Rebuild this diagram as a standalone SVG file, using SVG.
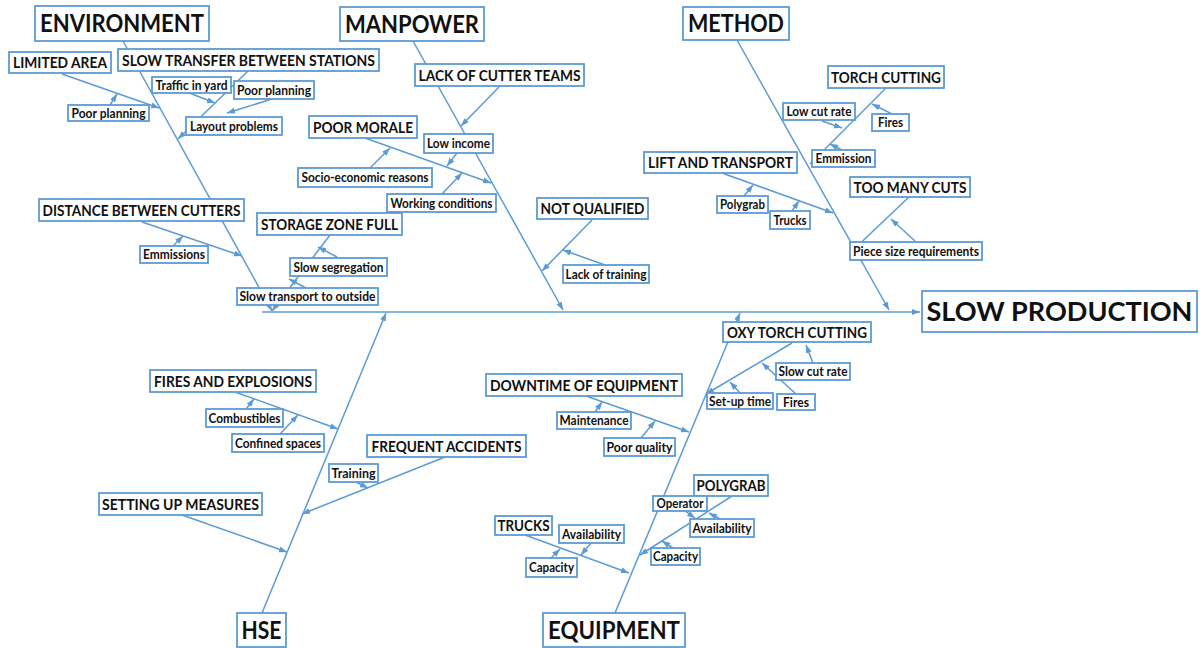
<svg xmlns="http://www.w3.org/2000/svg" width="1203" height="648" viewBox="0 0 1203 648">
<defs>
<style>
.b{fill:#fff;stroke:#5B9BD5;stroke-width:1.8}
text{font-family:Lato,"Liberation Sans",sans-serif;font-weight:700;fill:#111;text-anchor:middle}
.h{font-size:24px}
.p{font-size:27px}
.m{font-size:15px}
.s{font-size:12.5px}
.c line{stroke:#5B9BD5;stroke-width:1.5;marker-end:url(#a)}
</style>
<marker id="a" viewBox="0 0 8 6" refX="8" refY="3" markerWidth="8" markerHeight="6" markerUnits="userSpaceOnUse" orient="auto">
<path d="M0,0 L8,3 L0,6 z" fill="#5B9BD5"/>
</marker>
</defs>
<rect width="1203" height="648" fill="#fff"/>
<g id="connectors" class="c">
<line x1="262" y1="312" x2="920" y2="312"/>
<line x1="123" y1="41" x2="272" y2="311"/>
<line x1="62" y1="74" x2="159" y2="108"/>
<line x1="110" y1="105" x2="117" y2="94"/>
<line x1="248" y1="71" x2="178" y2="139"/>
<line x1="187" y1="92" x2="215" y2="103"/>
<line x1="272" y1="99" x2="227" y2="113"/>
<line x1="142" y1="222" x2="242" y2="256"/>
<line x1="173" y1="246" x2="183" y2="236"/>
<line x1="330" y1="235" x2="272" y2="311"/>
<line x1="337" y1="257" x2="318" y2="247"/>
<line x1="306" y1="288" x2="289" y2="279"/>
<line x1="413" y1="41" x2="563" y2="310"/>
<line x1="499" y1="87" x2="461" y2="126"/>
<line x1="457" y1="153" x2="447" y2="166"/>
<line x1="365" y1="138" x2="491" y2="183"/>
<line x1="370" y1="168" x2="390" y2="148"/>
<line x1="442" y1="194" x2="462" y2="173"/>
<line x1="592" y1="220" x2="542" y2="271"/>
<line x1="605" y1="265" x2="563" y2="250"/>
<line x1="737" y1="40" x2="889" y2="310"/>
<line x1="886" y1="88" x2="810" y2="164"/>
<line x1="822" y1="121" x2="842" y2="128"/>
<line x1="892" y1="114" x2="872" y2="104"/>
<line x1="842" y1="150" x2="830" y2="144"/>
<line x1="722" y1="173" x2="833" y2="213"/>
<line x1="744" y1="196" x2="753" y2="185"/>
<line x1="792" y1="211" x2="799" y2="201"/>
<line x1="909" y1="197" x2="851" y2="252"/>
<line x1="915" y1="241" x2="891" y2="219"/>
<line x1="262" y1="613" x2="386" y2="313"/>
<line x1="235" y1="392" x2="338" y2="429"/>
<line x1="246" y1="409" x2="254" y2="399"/>
<line x1="280" y1="434" x2="298" y2="415"/>
<line x1="445" y1="457" x2="302" y2="514"/>
<line x1="356" y1="482" x2="368" y2="488"/>
<line x1="182" y1="515" x2="287" y2="552"/>
<line x1="615" y1="613" x2="740" y2="313"/>
<line x1="792" y1="343" x2="706" y2="394"/>
<line x1="813" y1="363" x2="806" y2="345"/>
<line x1="796" y1="394" x2="762" y2="363"/>
<line x1="740" y1="393" x2="730" y2="382"/>
<line x1="586" y1="396" x2="689" y2="432"/>
<line x1="595" y1="412" x2="602" y2="402"/>
<line x1="641" y1="438" x2="655" y2="421"/>
<line x1="732" y1="496" x2="640" y2="555"/>
<line x1="685" y1="511" x2="695" y2="518"/>
<line x1="720" y1="519" x2="709" y2="513"/>
<line x1="673" y1="548" x2="662" y2="541"/>
<line x1="525" y1="535" x2="629" y2="573"/>
<line x1="591" y1="543" x2="581" y2="555"/>
<line x1="551" y1="558" x2="560" y2="549"/>
</g>
<g id="slow-production"><rect class="b" x="922" y="291" width="275" height="41"/><text class="p" x="1059.5" y="321" textLength="266" lengthAdjust="spacingAndGlyphs">SLOW PRODUCTION</text></g>
<g id="environment"><rect class="b" x="35" y="6" width="174" height="35"/><text class="h" x="122" y="32" textLength="164" lengthAdjust="spacingAndGlyphs">ENVIRONMENT</text></g>
<g id="manpower"><rect class="b" x="340" y="7" width="144" height="34"/><text class="h" x="412" y="33" textLength="134" lengthAdjust="spacingAndGlyphs">MANPOWER</text></g>
<g id="method"><rect class="b" x="683" y="7" width="106" height="33"/><text class="h" x="736" y="32" textLength="96" lengthAdjust="spacingAndGlyphs">METHOD</text></g>
<g id="hse"><rect class="b" x="237" y="613" width="49" height="34"/><text class="h" x="261.5" y="639" textLength="40" lengthAdjust="spacingAndGlyphs">HSE</text></g>
<g id="equipment"><rect class="b" x="543" y="613" width="142" height="34"/><text class="h" x="614" y="639" textLength="132" lengthAdjust="spacingAndGlyphs">EQUIPMENT</text></g>
<g id="limited-area"><rect class="b" x="9" y="52" width="102" height="21"/><text class="m" x="60" y="68" textLength="94" lengthAdjust="spacingAndGlyphs">LIMITED AREA</text></g>
<g id="slow-transfer"><rect class="b" x="118" y="49" width="261" height="22"/><text class="m" x="248.5" y="65.5" textLength="253" lengthAdjust="spacingAndGlyphs">SLOW TRANSFER BETWEEN STATIONS</text></g>
<g id="distance-cutters"><rect class="b" x="39" y="199" width="205" height="22"/><text class="m" x="141.5" y="215.5" textLength="198" lengthAdjust="spacingAndGlyphs">DISTANCE BETWEEN CUTTERS</text></g>
<g id="storage-zone"><rect class="b" x="257" y="213" width="145" height="22"/><text class="m" x="329.5" y="229.5" textLength="137" lengthAdjust="spacingAndGlyphs">STORAGE ZONE FULL</text></g>
<g id="lack-cutter"><rect class="b" x="415" y="64" width="169" height="22"/><text class="m" x="499.5" y="80.5" textLength="162" lengthAdjust="spacingAndGlyphs">LACK OF CUTTER TEAMS</text></g>
<g id="poor-morale"><rect class="b" x="309" y="116" width="108" height="22"/><text class="m" x="363" y="132.5" textLength="100" lengthAdjust="spacingAndGlyphs">POOR MORALE</text></g>
<g id="not-qualified"><rect class="b" x="537" y="198" width="111" height="21"/><text class="m" x="592.5" y="214" textLength="104" lengthAdjust="spacingAndGlyphs">NOT QUALIFIED</text></g>
<g id="torch-cutting"><rect class="b" x="828" y="66" width="116" height="22"/><text class="m" x="886" y="82.5" textLength="110" lengthAdjust="spacingAndGlyphs">TORCH CUTTING</text></g>
<g id="lift-transport"><rect class="b" x="644" y="152" width="153" height="21"/><text class="m" x="720.5" y="168" textLength="145" lengthAdjust="spacingAndGlyphs">LIFT AND TRANSPORT</text></g>
<g id="too-many-cuts"><rect class="b" x="850" y="177" width="120" height="20"/><text class="m" x="910" y="192.5" textLength="113" lengthAdjust="spacingAndGlyphs">TOO MANY CUTS</text></g>
<g id="fires-explosions"><rect class="b" x="150" y="370" width="166" height="22"/><text class="m" x="233" y="386.5" textLength="158" lengthAdjust="spacingAndGlyphs">FIRES AND EXPLOSIONS</text></g>
<g id="frequent-accidents"><rect class="b" x="367" y="435" width="159" height="22"/><text class="m" x="446.5" y="451.5" textLength="150" lengthAdjust="spacingAndGlyphs">FREQUENT ACCIDENTS</text></g>
<g id="setting-up"><rect class="b" x="99" y="493" width="163" height="22"/><text class="m" x="180.5" y="509.5" textLength="157" lengthAdjust="spacingAndGlyphs">SETTING UP MEASURES</text></g>
<g id="downtime"><rect class="b" x="486" y="374" width="196" height="22"/><text class="m" x="584" y="390.5" textLength="188" lengthAdjust="spacingAndGlyphs">DOWNTIME OF EQUIPMENT</text></g>
<g id="oxy-torch"><rect class="b" x="723" y="322" width="148" height="20"/><text class="m" x="797" y="337.5" textLength="140" lengthAdjust="spacingAndGlyphs">OXY TORCH CUTTING</text></g>
<g id="polygrab-head"><rect class="b" x="694" y="475" width="74" height="21"/><text class="m" x="731" y="491" textLength="69" lengthAdjust="spacingAndGlyphs">POLYGRAB</text></g>
<g id="trucks-head"><rect class="b" x="495" y="516" width="57" height="19"/><text class="m" x="523.5" y="531" textLength="52" lengthAdjust="spacingAndGlyphs">TRUCKS</text></g>
<g id="traffic-yard"><rect class="b" x="152" y="77" width="79" height="16"/><text class="s" x="191.5" y="89.5" textLength="72" lengthAdjust="spacingAndGlyphs">Traffic in yard</text></g>
<g id="poor-planning-r"><rect class="b" x="234" y="81" width="80" height="18"/><text class="s" x="274" y="94.5" textLength="74" lengthAdjust="spacingAndGlyphs">Poor planning</text></g>
<g id="poor-planning-l"><rect class="b" x="68" y="105" width="81" height="16"/><text class="s" x="108.5" y="117.5" textLength="74" lengthAdjust="spacingAndGlyphs">Poor planning</text></g>
<g id="layout-problems"><rect class="b" x="186" y="117" width="96" height="18"/><text class="s" x="234" y="130.5" textLength="88" lengthAdjust="spacingAndGlyphs">Layout problems</text></g>
<g id="emmissions"><rect class="b" x="140" y="246" width="68" height="17"/><text class="s" x="174" y="259" textLength="62" lengthAdjust="spacingAndGlyphs">Emmissions</text></g>
<g id="slow-segregation"><rect class="b" x="290" y="258" width="97" height="18"/><text class="s" x="338.5" y="271.5" textLength="90" lengthAdjust="spacingAndGlyphs">Slow segregation</text></g>
<g id="slow-transport"><rect class="b" x="237" y="288" width="141" height="17"/><text class="s" x="307.5" y="301" textLength="136" lengthAdjust="spacingAndGlyphs">Slow transport to outside</text></g>
<g id="low-income"><rect class="b" x="424" y="134" width="69" height="19"/><text class="s" x="458.5" y="148" textLength="63" lengthAdjust="spacingAndGlyphs">Low income</text></g>
<g id="socio-economic"><rect class="b" x="298" y="168" width="134" height="19"/><text class="s" x="365" y="182" textLength="127" lengthAdjust="spacingAndGlyphs">Socio-economic reasons</text></g>
<g id="working-conditions"><rect class="b" x="387" y="194" width="109" height="18"/><text class="s" x="441.5" y="207.5" textLength="102" lengthAdjust="spacingAndGlyphs">Working conditions</text></g>
<g id="lack-training"><rect class="b" x="563" y="265" width="86" height="18"/><text class="s" x="606" y="278.5" textLength="81" lengthAdjust="spacingAndGlyphs">Lack of training</text></g>
<g id="low-cut-rate"><rect class="b" x="783" y="103" width="72" height="17"/><text class="s" x="819" y="116" textLength="65" lengthAdjust="spacingAndGlyphs">Low cut rate</text></g>
<g id="fires-method"><rect class="b" x="872" y="114" width="37" height="17"/><text class="s" x="890.5" y="127" textLength="25" lengthAdjust="spacingAndGlyphs">Fires</text></g>
<g id="emmission"><rect class="b" x="812" y="150" width="63" height="17"/><text class="s" x="843.5" y="163" textLength="56" lengthAdjust="spacingAndGlyphs">Emmission</text></g>
<g id="polygrab-method"><rect class="b" x="717" y="196" width="51" height="17"/><text class="s" x="742.5" y="209" textLength="45" lengthAdjust="spacingAndGlyphs">Polygrab</text></g>
<g id="trucks-method"><rect class="b" x="770" y="211" width="40" height="18"/><text class="s" x="790" y="224.5" textLength="33" lengthAdjust="spacingAndGlyphs">Trucks</text></g>
<g id="piece-size"><rect class="b" x="850" y="242" width="132" height="18"/><text class="s" x="916" y="255.5" textLength="126" lengthAdjust="spacingAndGlyphs">Piece size requirements</text></g>
<g id="combustibles"><rect class="b" x="206" y="409" width="77" height="18"/><text class="s" x="244.5" y="422.5" textLength="72" lengthAdjust="spacingAndGlyphs">Combustibles</text></g>
<g id="confined-spaces"><rect class="b" x="232" y="434" width="92" height="18"/><text class="s" x="278" y="447.5" textLength="86" lengthAdjust="spacingAndGlyphs">Confined spaces</text></g>
<g id="training"><rect class="b" x="329" y="464" width="49" height="18"/><text class="s" x="353.5" y="477.5" textLength="44" lengthAdjust="spacingAndGlyphs">Training</text></g>
<g id="maintenance"><rect class="b" x="557" y="412" width="74" height="17"/><text class="s" x="594" y="425" textLength="69" lengthAdjust="spacingAndGlyphs">Maintenance</text></g>
<g id="poor-quality"><rect class="b" x="604" y="438" width="71" height="18"/><text class="s" x="639.5" y="451.5" textLength="66" lengthAdjust="spacingAndGlyphs">Poor quality</text></g>
<g id="slow-cut-rate"><rect class="b" x="776" y="363" width="74" height="17"/><text class="s" x="813" y="376" textLength="69" lengthAdjust="spacingAndGlyphs">Slow cut rate</text></g>
<g id="set-up-time"><rect class="b" x="707" y="393" width="66" height="16"/><text class="s" x="740" y="405.5" textLength="62" lengthAdjust="spacingAndGlyphs">Set-up time</text></g>
<g id="fires-equipment"><rect class="b" x="777" y="394" width="38" height="16"/><text class="s" x="796" y="406.5" textLength="26" lengthAdjust="spacingAndGlyphs">Fires</text></g>
<g id="operator"><rect class="b" x="653" y="496" width="54" height="15"/><text class="s" x="680" y="508" textLength="47" lengthAdjust="spacingAndGlyphs">Operator</text></g>
<g id="availability-r"><rect class="b" x="690" y="519" width="64" height="18"/><text class="s" x="722" y="532.5" textLength="59" lengthAdjust="spacingAndGlyphs">Availability</text></g>
<g id="capacity-r"><rect class="b" x="651" y="548" width="49" height="17"/><text class="s" x="675.5" y="561" textLength="45" lengthAdjust="spacingAndGlyphs">Capacity</text></g>
<g id="availability-l"><rect class="b" x="559" y="525" width="65" height="18"/><text class="s" x="591.5" y="538.5" textLength="59" lengthAdjust="spacingAndGlyphs">Availability</text></g>
<g id="capacity-l"><rect class="b" x="526" y="558" width="51" height="19"/><text class="s" x="551.5" y="572" textLength="45" lengthAdjust="spacingAndGlyphs">Capacity</text></g>
</svg>
